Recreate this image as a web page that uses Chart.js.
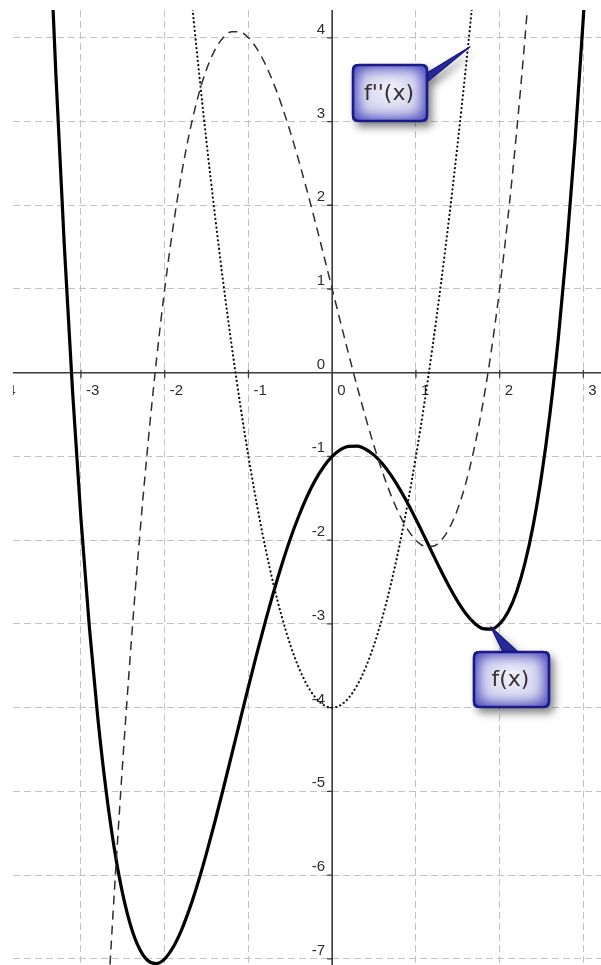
<!DOCTYPE html>
<html><head><meta charset="utf-8">
<script src="https://cdn.jsdelivr.net/npm/chart.js@4.4.1/dist/chart.umd.min.js"></script>
<style>html,body{margin:0;padding:0;background:#fff;overflow:hidden}canvas{display:block}</style>
</head><body>
<canvas id="c" width="601" height="965" style="width:601px;height:965px"></canvas>
<script>
// f(x) — solid
const fX = [-3.5,-3.4,-3.3,-3.2,-3.1,-3.0,-2.9,-2.8,-2.7,-2.6,-2.5,-2.4,-2.3,-2.2,-2.1,-2.0,-1.9,-1.8,-1.7,-1.6,-1.5,-1.4,-1.3,-1.2,-1.1,-1.0,-0.9,-0.8,-0.7,-0.6,-0.5,-0.4,-0.3,-0.2,-0.1,0,0.1,0.2,0.3,0.4,0.5,0.6,0.7,0.8,0.9,1.0,1.1,1.2,1.3,1.4,1.5,1.6,1.7,1.8,1.9,2.0,2.1,2.2,2.3,2.4,2.5,2.6,2.7,2.8,2.9,3.0,3.1];
const fY = [8.516,5.888,3.568,1.534,-0.232,-1.75,-3.038,-4.114,-4.994,-5.696,-6.234,-6.626,-6.884,-7.024,-7.058,-7,-6.862,-6.656,-6.392,-6.082,-5.734,-5.36,-4.966,-4.562,-4.154,-3.75,-3.356,-2.978,-2.62,-2.288,-1.984,-1.714,-1.478,-1.28,-1.12,-1,-0.92,-0.88,-0.878,-0.914,-0.984,-1.088,-1.22,-1.378,-1.556,-1.75,-1.954,-2.162,-2.366,-2.56,-2.734,-2.882,-2.992,-3.056,-3.062,-3,-2.858,-2.624,-2.284,-1.826,-1.234,-0.496,0.406,1.486,2.762,4.25,5.968];
// f'(x) — dashed
const d1X = [-2.8,-2.7,-2.6,-2.5,-2.4,-2.3,-2.2,-2.1,-2.0,-1.9,-1.8,-1.7,-1.6,-1.5,-1.4,-1.3,-1.2,-1.1,-1.0,-0.9,-0.8,-0.7,-0.6,-0.5,-0.4,-0.3,-0.2,-0.1,0,0.1,0.2,0.3,0.4,0.5,0.6,0.7,0.8,0.9,1.0,1.1,1.2,1.3,1.4,1.5,1.6,1.7,1.8,1.9,2.0,2.1,2.2,2.3,2.4];
const d1Y = [-9.752,-7.883,-6.176,-4.625,-3.224,-1.967,-0.848,0.139,1,1.741,2.368,2.887,3.304,3.625,3.856,4.003,4.072,4.069,4,3.871,3.688,3.457,3.184,2.875,2.536,2.173,1.792,1.399,1,0.601,0.208,-0.173,-0.536,-0.875,-1.184,-1.457,-1.688,-1.871,-2,-2.069,-2.072,-2.003,-1.856,-1.625,-1.304,-0.887,-0.368,0.259,1,1.861,2.848,3.967,5.224];
// f''(x) — dotted
const d2X = [-1.8,-1.7,-1.6,-1.5,-1.4,-1.3,-1.2,-1.1,-1.0,-0.9,-0.8,-0.7,-0.6,-0.5,-0.4,-0.3,-0.2,-0.1,0,0.1,0.2,0.3,0.4,0.5,0.6,0.7,0.8,0.9,1.0,1.1,1.2,1.3,1.4,1.5,1.6,1.7,1.8];
const d2Y = [5.72,4.67,3.68,2.75,1.88,1.07,0.32,-0.37,-1,-1.57,-2.08,-2.53,-2.92,-3.25,-3.52,-3.73,-3.88,-3.97,-4,-3.97,-3.88,-3.73,-3.52,-3.25,-2.92,-2.53,-2.08,-1.57,-1,-0.37,0.32,1.07,1.88,2.75,3.68,4.67,5.72];

// axis ticks / labels
const xTickValues = [-4,-3,-2,-1,0,1,2,3];
const xTickLabels = ['-4','-3','-2','-1','0','1','2','3'];
const yTickValues = [4,3,2,1,0,-1,-2,-3,-4,-5,-6,-7];
const yTickLabels = ['4','3','2','1','0','-1','-2','-3','-4','-5','-6','-7'];
const xGridValues = [-3,-2,-1,0,1,2,3];
const yGridValues = [4,3,2,1,0,-1,-2,-3,-4,-5,-6,-7];

// callouts (anchor in data units)
const calloutText = ["f''(x)", 'f(x)'];
const calloutAnchorX = [1.646, 1.893];
const calloutAnchorY = [3.893, -3.034];

const calloutGeom = [
  {dx:-118, dy:17.3, w:76, h:58, tail:'right', t1:9, t2:18},
  {dx:-17.7, dy:24.3, w:77, h:57, tail:'top', t1:30, t2:45}
];

function rrPath(ctx, x, y, w, h, r) {
  ctx.moveTo(x + r, y);
  ctx.lineTo(x + w - r, y);
  ctx.quadraticCurveTo(x + w, y, x + w, y + r);
  ctx.lineTo(x + w, y + h - r);
  ctx.quadraticCurveTo(x + w, y + h, x + w - r, y + h);
  ctx.lineTo(x + r, y + h);
  ctx.quadraticCurveTo(x, y + h, x, y + h - r);
  ctx.lineTo(x, y + r);
  ctx.quadraticCurveTo(x, y, x + r, y);
  ctx.closePath();
}

const axisPlugin = {
  id: 'geoAxes',
  beforeDatasetsDraw(chart) {
    const {ctx, chartArea: a, scales: {x, y}} = chart;
    const x0 = x.getPixelForValue(0), y0 = y.getPixelForValue(0);
    ctx.save();
    ctx.beginPath(); ctx.rect(a.left, a.top, a.right - a.left, a.bottom - a.top); ctx.clip();
    ctx.strokeStyle = '#3a3a3a'; ctx.lineWidth = 1.6;
    ctx.beginPath();
    ctx.moveTo(a.left, y0); ctx.lineTo(a.right, y0);
    ctx.moveTo(x0, a.top); ctx.lineTo(x0, a.bottom);
    ctx.stroke();
    ctx.lineWidth = 1.3;
    ctx.beginPath();
    xTickValues.forEach(v => { if (v === 0) return; const px = x.getPixelForValue(v); ctx.moveTo(px, y0 - 3); ctx.lineTo(px, y0 + 5); });
    yTickValues.forEach(v => { if (v === 0) return; const py = y.getPixelForValue(v); ctx.moveTo(x0 - 5, py); ctx.lineTo(x0, py); });
    ctx.stroke();
    ctx.fillStyle = '#2e2e2e';
    ctx.font = '15px "Liberation Sans", Arial, sans-serif';
    ctx.textBaseline = 'alphabetic';
    ctx.textAlign = 'left';
    xTickLabels.forEach((t, i) => ctx.fillText(t, x.getPixelForValue(xTickValues[i]) + 5, y0 + 22));
    ctx.textAlign = 'right';
    yTickLabels.forEach((t, i) => ctx.fillText(t, x0 - 7, y.getPixelForValue(yTickValues[i]) - 4));
    ctx.restore();
  }
};

const calloutPlugin = {
  id: 'callouts',
  afterDatasetsDraw(chart) {
    const {ctx, scales: {x, y}} = chart;
    calloutText.forEach((txt, i) => {
      const g = calloutGeom[i];
      const ax = x.getPixelForValue(calloutAnchorX[i]);
      const ay = y.getPixelForValue(calloutAnchorY[i]);
      const bx = ax + g.dx, by = ay + g.dy, w = g.w, h = g.h, r = 6;
      let tail;
      if (g.tail === 'right') tail = [[bx + w - 1, by + g.t1], [ax, ay], [bx + w - 1, by + g.t2]];
      else tail = [[bx + g.t1, by + 1], [ax, ay], [bx + g.t2, by + 1]];
      const shape = () => {
        ctx.beginPath();
        rrPath(ctx, bx, by, w, h, r);
        ctx.moveTo(tail[0][0], tail[0][1]); ctx.lineTo(tail[1][0], tail[1][1]); ctx.lineTo(tail[2][0], tail[2][1]); ctx.closePath();
      };
      // drop shadow
      ctx.save();
      ctx.shadowColor = 'rgba(0,0,0,0.5)';
      ctx.shadowBlur = 8; ctx.shadowOffsetX = 4; ctx.shadowOffsetY = 5;
      ctx.fillStyle = '#1e1e8c';
      shape(); ctx.fill('nonzero');
      ctx.restore();
      // tail
      ctx.save();
      ctx.fillStyle = '#2a2a96'; ctx.strokeStyle = '#1a1a85'; ctx.lineWidth = 1.2; ctx.lineJoin = 'round';
      ctx.beginPath(); ctx.moveTo(tail[0][0], tail[0][1]); ctx.lineTo(tail[1][0], tail[1][1]); ctx.lineTo(tail[2][0], tail[2][1]); ctx.closePath();
      ctx.fill(); ctx.stroke();
      ctx.restore();
      // body with inner glow
      ctx.save();
      ctx.beginPath(); rrPath(ctx, bx, by, w, h, r);
      const rg = ctx.createRadialGradient(bx + w / 2, by + h * 0.42, 4, bx + w / 2, by + h / 2, w * 0.55);
      rg.addColorStop(0, '#ececfa');
      rg.addColorStop(0.6, '#d4d4f0');
      rg.addColorStop(1, '#a8a8de');
      ctx.fillStyle = rg; ctx.fill();
      ctx.clip();
      ctx.shadowColor = 'rgba(70,70,190,1)';
      ctx.shadowBlur = 16;
      for (let k = 0; k < 2; k++) {
        ctx.beginPath();
        ctx.rect(bx - 80, by - 80, w + 160, h + 160);
        rrPath(ctx, bx, by, w, h, r);
        ctx.fillStyle = '#4848b4';
        ctx.fill('evenodd');
      }
      ctx.restore();
      // border
      ctx.save();
      ctx.beginPath(); rrPath(ctx, bx + 1, by + 1, w - 2, h - 2, r);
      ctx.strokeStyle = '#1a1a88'; ctx.lineWidth = 2.6; ctx.stroke();
      ctx.restore();
      // text
      ctx.save();
      ctx.fillStyle = '#3a3030';
      ctx.font = '22px "DejaVu Sans", sans-serif';
      ctx.textAlign = 'center'; ctx.textBaseline = 'middle';
      ctx.fillText(txt, bx + w / 2 - 1, by + h / 2 + 1);
      ctx.restore();
    });
  }
};

const pts = (xs, ys) => xs.map((v, i) => ({x: v, y: ys[i]}));

new Chart(document.getElementById('c'), {
  type: 'line',
  data: {
    datasets: [
      {label: "f''(x)", data: pts(d2X, d2Y), borderColor: '#111', borderWidth: 2.2, borderDash: [0.1, 4.2], borderCapStyle: 'round', pointRadius: 0, cubicInterpolationMode: 'monotone', fill: false},
      {label: "f'(x)", data: pts(d1X, d1Y), borderColor: '#2e2e2e', borderWidth: 1.5, borderDash: [9, 6], pointRadius: 0, cubicInterpolationMode: 'monotone', fill: false},
      {label: 'f(x)', data: pts(fX, fY), borderColor: '#000', borderWidth: 3.2, pointRadius: 0, cubicInterpolationMode: 'monotone', fill: false}
    ]
  },
  options: {
    responsive: false,
    devicePixelRatio: 1,
    animation: false,
    events: [],
    layout: {padding: {left: 13, top: 10, right: 0, bottom: 0}},
    plugins: {legend: {display: false}, tooltip: {enabled: false}},
    scales: {
      x: {
        type: 'linear', position: 'bottom', min: -3.812, max: 3.2105,
        afterBuildTicks: s => { s.ticks = xGridValues.map(v => ({value: v})); },
        afterFit: s => { s.height = 0; },
        ticks: {display: false},
        grid: {color: '#c2c2c2', lineWidth: 1, drawTicks: false},
        border: {display: false, dash: [7, 4]}
      },
      y: {
        type: 'linear', position: 'left', min: -7.074, max: 4.332,
        afterBuildTicks: s => { s.ticks = yGridValues.map(v => ({value: v})); },
        afterFit: s => { s.width = 0; },
        ticks: {display: false},
        grid: {color: '#c2c2c2', lineWidth: 1, drawTicks: false},
        border: {display: false, dash: [7, 4]}
      }
    }
  },
  plugins: [axisPlugin, calloutPlugin]
});
</script>
</body></html>
